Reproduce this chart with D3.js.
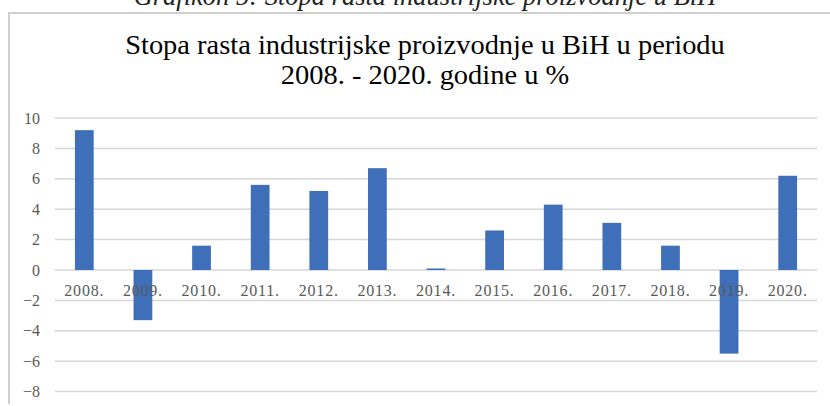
<!DOCTYPE html>
<html>
<head>
<meta charset="utf-8">
<script src="https://cdn.jsdelivr.net/npm/d3@7"></script>
<style>
  body { margin: 0; background: #fff; }
  svg { display: block; }
</style>
</head>
<body>
<div id="chart"></div>
<script>
// data
const years = ["2008.", "2009.", "2010.", "2011.", "2012.", "2013.", "2014.",
               "2015.", "2016.", "2017.", "2018.", "2019.", "2020."];
const growth = [9.2, -3.3, 1.6, 5.6, 5.2, 6.7, 0.1, 2.6, 4.3, 3.1, 1.6, -5.5, 6.2];
const yTicks = [10, 8, 6, 4, 2, 0, -2, -4, -6, -8];
const titleLines = ["Stopa rasta industrijske proizvodnje u BiH u periodu",
                    "2008. - 2020. godine u %"];
const caption = "Grafikon 5: Stopa rasta industrijske proizvodnje u BiH";

const width = 830, height = 406;
const serif = "'Liberation Serif', 'Times New Roman', serif";

const svg = d3.select("#chart")
    .append("svg")
    .attr("width", width)
    .attr("height", height);

// caption above the chart box, mostly cut off at the top
svg.append("text")
    .attr("x", 425)
    .attr("y", 5)
    .attr("text-anchor", "middle")
    .style("font-family", serif)
    .style("font-style", "italic")
    .style("font-size", "26.5px")
    .style("fill", "#222")
    .text(caption);

// chart box border (only left and top are visible)
svg.append("path")
    .attr("d", "M9,404 L9,13 L830,13")
    .attr("fill", "none")
    .attr("stroke", "#d0d0d0")
    .attr("stroke-width", 2);

// title (the original is a bit stretched sideways)
svg.append("g")
    .attr("transform", "translate(425,0) scale(1.035,1)")
    .selectAll("text")
    .data(titleLines)
    .enter()
    .append("text")
    .attr("x", 0)
    .attr("y", (d, i) => 54 + i * 30)
    .attr("text-anchor", "middle")
    .style("font-family", serif)
    .style("font-size", "27.5px")
    .style("fill", "#000")
    .text(d => d);

// scales
const x = d3.scaleBand()
    .domain(years)
    .range([55, 817])
    .paddingInner(0.68)
    .paddingOuter(0.34);

const y = d3.scaleLinear()
    .domain([-8, 10])
    .range([391.6, 118]);

// gridlines
svg.append("g")
    .selectAll("line")
    .data(yTicks)
    .enter()
    .append("line")
    .attr("x1", 55)
    .attr("x2", 817)
    .attr("y1", d => y(d))
    .attr("y2", d => y(d))
    .attr("stroke", "#d6d6d6")
    .attr("stroke-width", 1.5);

// y axis labels
const yAxis = svg.append("g")
    .attr("transform", "translate(46,0)")
    .call(d3.axisLeft(y).tickValues(yTicks).tickSize(0).tickPadding(6));
yAxis.select(".domain").remove();
yAxis.attr("font-family", serif).attr("font-size", 16);
yAxis.selectAll("text")
    .style("font-family", serif)
    .style("font-size", "16px")
    .style("fill", "#595959");

// bars
svg.append("g")
    .selectAll("rect")
    .data(growth)
    .enter()
    .append("rect")
    .attr("x", (d, i) => x(years[i]))
    .attr("width", x.bandwidth())
    .attr("y", d => y(Math.max(0, d)))
    .attr("height", d => Math.abs(y(d) - y(0)))
    .attr("fill", "#3f6fb9");

// category labels just under the zero line
svg.append("g")
    .selectAll("text")
    .data(years)
    .enter()
    .append("text")
    .attr("x", d => x(d) + x.bandwidth() / 2)
    .attr("y", 296)
    .attr("text-anchor", "middle")
    .style("font-family", serif)
    .style("font-size", "16px")
    .style("letter-spacing", "0.8px")
    .style("fill", "#595959")
    .text(d => d);
</script>
</body>
</html>
